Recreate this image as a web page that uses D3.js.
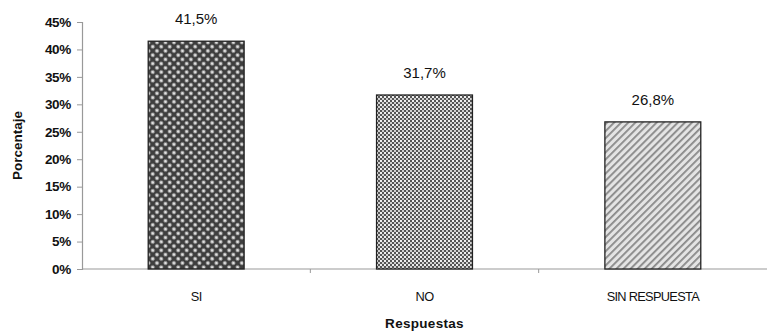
<!DOCTYPE html>
<html>
<head>
<meta charset="utf-8">
<script src="https://cdn.jsdelivr.net/npm/d3@7"></script>
<style>
  html, body { margin: 0; padding: 0; background: #fff; }
  svg { display: block; }
  text { font-family: Arial, "Liberation Sans", sans-serif; fill: #111; }
</style>
</head>
<body>
<svg id="chart" width="769" height="331"></svg>
<script>
const categories = ["SI", "NO", "SIN RESPUESTA"];
const values = [41.5, 31.7, 26.8];
const valueLabels = ["41,5%", "31,7%", "26,8%"];
const yTicks = [0, 5, 10, 15, 20, 25, 30, 35, 40, 45];
const patternIds = ["pSi", "pNo", "pSin"];

const svg = d3.select("#chart");
const margin = { left: 82, right: 2, top: 22, bottom: 62 };
const W = 769, H = 331;

const x = d3.scaleBand().domain(categories)
  .range([margin.left, W - margin.right])
  .paddingInner(0.58).paddingOuter(0.29);
const y = d3.scaleLinear().domain([0, 45]).range([H - margin.bottom, margin.top]);

// Hatch fills for the three bars
const defs = svg.append("defs");
// SI: dark diamond lattice with light dots
const p1 = defs.append("pattern").attr("id", "pSi").attr("patternUnits", "userSpaceOnUse")
  .attr("width", 6).attr("height", 6).attr("patternTransform", "rotate(45)");
p1.append("rect").attr("width", 6).attr("height", 6).attr("fill", "#3e3e3e");
p1.append("circle").attr("cx", 3).attr("cy", 3).attr("r", 1.8).attr("fill", "#e0e0e0");
// NO: fine dotted checker
const p2 = defs.append("pattern").attr("id", "pNo").attr("patternUnits", "userSpaceOnUse")
  .attr("width", 4).attr("height", 4);
p2.append("rect").attr("width", 4).attr("height", 4).attr("fill", "#555");
p2.append("rect").attr("x", 0).attr("y", 0).attr("width", 2).attr("height", 2).attr("fill", "#eeeeee");
p2.append("rect").attr("x", 2).attr("y", 2).attr("width", 2).attr("height", 2).attr("fill", "#d0d0d0");
// SIN RESPUESTA: light diagonal stripes rising to the right
const p3 = defs.append("pattern").attr("id", "pSin").attr("patternUnits", "userSpaceOnUse")
  .attr("width", 5).attr("height", 5).attr("patternTransform", "rotate(45)");
p3.append("rect").attr("width", 5).attr("height", 5).attr("fill", "#e4e4e4");
p3.append("rect").attr("x", 0).attr("y", 0).attr("width", 1.8).attr("height", 5).attr("fill", "#888");

// Y axis
const yAxis = d3.axisLeft(y).tickValues(yTicks).tickSize(5).tickPadding(6)
  .tickFormat(d => d + "%");
const gy = svg.append("g").attr("transform", `translate(${margin.left},0)`).call(yAxis);
gy.select(".domain").attr("stroke", "#999").attr("stroke-width", 1.2);
gy.selectAll(".tick line").attr("stroke", "#999");
gy.selectAll(".tick text").style("font-size", "13.5px").style("font-weight", "bold")
  .style("letter-spacing", "-0.3px")
  .style("font-family", "Arial, 'Liberation Sans', sans-serif").attr("fill", "#222");

// X axis with ticks on band boundaries
const gx = svg.append("g").attr("transform", `translate(0,${y(0)})`);
gx.append("line").attr("x1", margin.left).attr("x2", W - margin.right)
  .attr("stroke", "#9a9a9a").attr("stroke-width", 1.2);
const step = x.step();
const boundaries = categories.slice(1).map(c => x(c) - x.paddingInner() * step / 2);
gx.selectAll("line.tk").data(boundaries).join("line").attr("class", "tk")
  .attr("x1", d => d).attr("x2", d => d).attr("y1", 0).attr("y2", 4)
  .attr("stroke", "#999");
gx.selectAll("text.cat").data(categories).join("text").attr("class", "cat")
  .attr("x", d => x(d) + x.bandwidth() / 2).attr("y", 32)
  .attr("text-anchor", "middle").style("font-size", "12.8px")
  .style("letter-spacing", "-0.7px").text(d => d);

// Bars
svg.selectAll("rect.bar").data(categories).join("rect").attr("class", "bar")
  .attr("x", d => x(d)).attr("width", x.bandwidth())
  .attr("y", (d, i) => y(values[i])).attr("height", (d, i) => y(0) - y(values[i]))
  .attr("fill", (d, i) => `url(#${patternIds[i]})`)
  .attr("stroke", "#222").attr("stroke-width", 1.3);

// Value labels
svg.selectAll("text.val").data(categories).join("text").attr("class", "val")
  .attr("x", d => x(d) + x.bandwidth() / 2).attr("y", (d, i) => y(values[i]) - 17)
  .attr("text-anchor", "middle").style("font-size", "15px").text((d, i) => valueLabels[i]);

// Axis titles
svg.append("text").attr("transform", `translate(22,${(y(0) + y(45)) / 2}) rotate(-90)`)
  .attr("text-anchor", "middle").style("font-size", "13.5px").style("font-weight", "bold")
  .text("Porcentaje");
svg.append("text").attr("x", x("NO") + x.bandwidth() / 2).attr("y", 328)
  .attr("text-anchor", "middle").style("font-size", "13.5px").style("font-weight", "bold")
  .style("letter-spacing", "0.3px")
  .text("Respuestas");
</script>
</body>
</html>
